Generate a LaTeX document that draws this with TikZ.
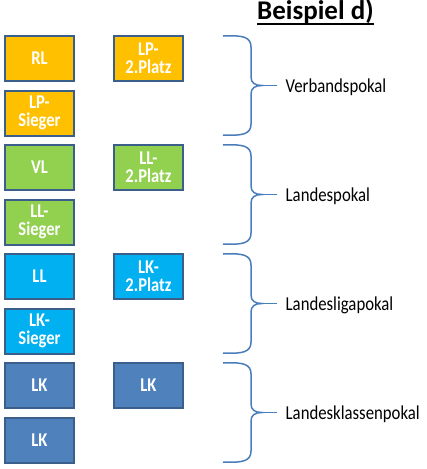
\documentclass[tikz,border=0pt]{standalone}
\usepackage{fontspec}
\setmainfont{Carlito}
\newfontfamily\boxfont{Carlito}[FakeStretch=0.85]
\newfontfamily\cupfont{Carlito}[FakeStretch=0.85]
\definecolor{lporange}{HTML}{FFC000}
\definecolor{llgreen}{HTML}{92D050}
\definecolor{lkcyan}{HTML}{00B0F0}
\definecolor{lkblue}{HTML}{4F81BD}
\definecolor{teamedge}{HTML}{3A5F8B}
\definecolor{cupblue}{HTML}{4A7EBB}
\begin{document}
\begin{tikzpicture}[x=1pt, y=-1pt,
  team/.style={draw=teamedge, line width=2pt, minimum width=69pt, minimum height=45pt,
    inner sep=0pt, text=white, align=center,
    font=\boxfont\bfseries\fontsize{19.5}{18}\selectfont},
  cup/.style={draw=cupblue, line width=1.5pt},
  cuplabel/.style={anchor=base west, inner sep=0pt, font=\cupfont\fontsize{19.7}{19.7}\selectfont}]
\useasboundingbox (0,0) rectangle (427,469);

\node[anchor=base west, inner sep=0pt, font=\bfseries\fontsize{27}{27}\selectfont] (title) at (257,19.5) {Beispiel d)};
\draw[line width=1.8pt] ([yshift=-4.5pt]title.base west) -- ([yshift=-4.5pt]title.base east);

% erste Spalte
\node[team, fill=lporange] (rl) at (39.5,58.5) {RL};
\node[team, fill=lporange] (lpsieger) at (39.5,113) {LP-\\Sieger};
\node[team, fill=llgreen] (vl) at (39.5,167.5) {VL};
\node[team, fill=llgreen] (llsieger) at (39.5,222) {LL-\\Sieger};
\node[team, fill=lkcyan] (ll) at (39.5,276.5) {LL};
\node[team, fill=lkcyan] (lksieger) at (39.5,331) {LK-\\Sieger};
\node[team, fill=lkblue] (lka) at (39.5,385.5) {LK};
\node[team, fill=lkblue] (lkb) at (39.5,440) {LK};

% zweite Spalte
\node[team, fill=lporange] (lpzweiter) at (148.5,58.5) {LP-\\2.Platz};
\node[team, fill=llgreen] (llzweiter) at (148.5,167.5) {LL-\\2.Platz};
\node[team, fill=lkcyan] (lkzweiter) at (148.5,276.5) {LK-\\2.Platz};
\node[team, fill=lkblue] (lkc) at (148.5,385.5) {LK};

% Klammern
\foreach \t/\lab in {35/Verbandspokal, 144/Landespokal, 253/Landesligapokal, 362/Landesklassenpokal}{
  \draw[cup] (223,\t+1) .. controls (243,\t) and (251,\t+2) .. (251,\t+12) -- (251,\t+42)
    .. controls (251,\t+48) and (255,\t+50.5) .. (262,\t+50.5)
    .. controls (255,\t+50.5) and (251,\t+53) .. (251,\t+59) -- (251,\t+89)
    .. controls (251,\t+99) and (243,\t+101) .. (223,\t+100);
  \coordinate (tip\t) at (262,\t+50.5);
  \node[cuplabel] (cup\t) at (285.5,\t+57.5) {\lab};
  \draw[cup] (tip\t) -- (277,\t+50.5);
}
\end{tikzpicture}
\end{document}
